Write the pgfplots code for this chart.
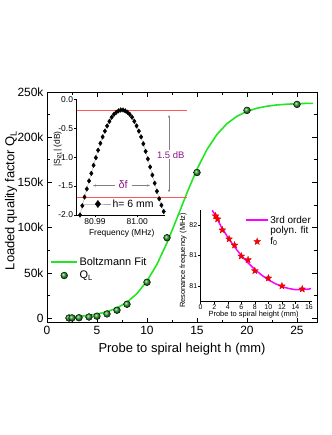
\documentclass[border=0pt]{standalone}
\usepackage{fontspec}
\setmainfont{Liberation Sans}
\usepackage{pgfplots}
\pgfplotsset{compat=1.18}
\usetikzlibrary{arrows.meta}

\definecolor{fitgreen}{HTML}{22E622}
\definecolor{ballgreen}{HTML}{279A27}
\definecolor{polymag}{HTML}{FF00FF}
\definecolor{linered}{HTML}{FF5555}
\definecolor{annpurple}{HTML}{8B1A8B}

% filled five-pointed star
\pgfdeclareplotmark{fstar}{%
  \pgfpathmoveto{\pgfpointpolar{90}{\pgfplotmarksize}}%
  \pgfpathlineto{\pgfpointpolar{126}{0.42\pgfplotmarksize}}%
  \pgfpathlineto{\pgfpointpolar{162}{\pgfplotmarksize}}%
  \pgfpathlineto{\pgfpointpolar{198}{0.42\pgfplotmarksize}}%
  \pgfpathlineto{\pgfpointpolar{234}{\pgfplotmarksize}}%
  \pgfpathlineto{\pgfpointpolar{270}{0.42\pgfplotmarksize}}%
  \pgfpathlineto{\pgfpointpolar{306}{\pgfplotmarksize}}%
  \pgfpathlineto{\pgfpointpolar{342}{0.42\pgfplotmarksize}}%
  \pgfpathlineto{\pgfpointpolar{18}{\pgfplotmarksize}}%
  \pgfpathlineto{\pgfpointpolar{54}{0.42\pgfplotmarksize}}%
  \pgfpathclose
  \pgfusepathqfillstroke}

% legend images of given length
\pgfplotsset{
  lineleg/.style={legend image code/.code={\draw[##1] (0bp,0bp) -- (#1,0bp);}},
  markleg/.style 2 args={legend image code/.code={\draw[mark repeat=2,mark phase=2,##1]
    plot coordinates {(0bp,0bp) (#1,0bp) (#2,0bp)};}},
  bigmarkleg/.style 2 args={legend image code/.code={\draw[mark repeat=2,mark phase=2,##1,mark size=3.6bp]
    plot coordinates {(0bp,0bp) (#1,0bp) (#2,0bp)};}},
}

\begin{document}
\begin{tikzpicture}
\path[use as bounding box] (0,0) rectangle (332bp,435bp);

% ---------------- main plot ----------------
\begin{axis}[
  at={(47bp,112.3bp)}, anchor=south west,
  scale only axis, width=270bp, height=230.7bp,
  xmin=0, xmax=27, ymin=-5, ymax=250,
  xtick={0,5,...,25}, ytick={0,50,...,250},
  yticklabels={0,50k,100k,150k,200k,250k},
  minor x tick num=1, minor y tick num=1,
  tick align=inside, major tick length=5bp, minor tick length=3bp,
  axis line style={line width=0.9bp},
  every tick/.style={black, line width=0.8bp},
  /pgf/number format/assume math mode=true,
  tick label style={font=\fontsize{12}{14}\selectfont},
  xlabel={Probe to spiral height h (mm)},
  ylabel={Loaded quality factor Q\textsubscript{L}},
  label style={font=\fontsize{13}{15}\selectfont},
  xlabel style={at={(axis description cs:0.5,-0.114)}, anchor=center},
  ylabel style={at={(axis description cs:-0.133,0.53)}, anchor=center},
  legend style={at={(axis description cs:0.012,0.29)}, anchor=north west, draw=none, fill=none,
    font=\fontsize{11}{13}\selectfont, inner sep=0pt, row sep=1bp,
    nodes={inner sep=1.5bp}},
  legend cell align=left,
]
\addplot[fitgreen, line width=1.6bp, lineleg=26bp]
  coordinates {
  (2,1.09) (3,1.75) (4,2.81) (5,4.49) (6,7.15) (7,11.3) (8,17.7) (9,27.2)
  (10,41.0) (11,59.6) (12,83.3) (13,110.5) (14,138.6) (15,164.7) (16,186.5)
  (17,203.1) (18,215.1) (19,223.2) (20,228.6) (21,232.1) (22,234.3)
  (23,235.7) (24,236.5) (25,237.1) (26,237.4) (26.6,237.5)};
\addlegendentry{Boltzmann Fit}
\addplot[only marks, mark=ball, mark size=3.4bp, mark options={ball color=ballgreen},
  markleg={13bp}{26bp}]
  coordinates {
  (2.2,0.2) (2.5,0.3) (3.2,0.5) (4.2,1.3) (5,2.2) (6,4.7) (7,8.8) (8,15.4)
  (10,39.7) (12,88.9) (15,161) (20,229.7) (25,236.3)};
\addlegendentry{Q\textsubscript{L}}
\end{axis}

% ---------------- inset: transmission peak ----------------
\begin{axis}[
  at={(76.7bp,220bp)}, anchor=south west,
  scale only axis, width=88.3bp, height=115.7bp,
  xmin=80.98567, xmax=81.00655, ymin=-2, ymax=0,
  axis x line*=bottom, axis y line*=left, tick pos=left,
  axis line style={line width=0.6bp},
  tick align=outside, major tick length=2.5bp, minor tick length=1.5bp,
  every tick/.style={black, line width=0.5bp},
  xtick={80.99,81.00}, xticklabels={80.99,81.00},
  minor xtick={80.995,81.005},
  ytick={-2,-1.5,-1,-0.5,0}, yticklabels={-2.0,-1.5,-1.0,-0.5,0.0},
  tick label style={font=\fontsize{8.5}{10}\selectfont, inner sep=1bp},
  xlabel={Frequency (MHz)}, ylabel={|S\textsubscript{21}| (dB)},
  label style={font=\fontsize{8.5}{10}\selectfont},
  xlabel style={at={(axis description cs:0.51,-0.156)}, anchor=center},
  ylabel style={at={(axis description cs:-0.215,0.57)}, anchor=center},
  clip=false,
  legend style={at={(axis description cs:0.077,0.095)}, anchor=west, draw=none, fill=none,
    font=\fontsize{10.5}{12}\selectfont, inner sep=0pt, nodes={inner sep=1.5bp}},
]
\addplot[gray!70, line width=0.4bp, mark=diamond*, mark size=2.3bp,
  mark options={black, fill=black}, bigmarkleg={14bp}{27bp}]
  coordinates {
  (80.98645,-2.00) (80.98699,-1.84) (80.98752,-1.69) (80.98806,-1.55)
  (80.98859,-1.41) (80.98913,-1.28) (80.98966,-1.14) (80.99020,-1.01)
  (80.99073,-0.88) (80.99127,-0.76) (80.99180,-0.65) (80.99234,-0.55)
  (80.99287,-0.46) (80.99341,-0.38) (80.99394,-0.31) (80.99448,-0.26)
  (80.99501,-0.225) (80.99555,-0.20) (80.99608,-0.185) (80.99662,-0.185)
  (80.99715,-0.20) (80.99769,-0.225) (80.99822,-0.26) (80.99876,-0.31)
  (80.99929,-0.38) (80.99983,-0.46) (81.00036,-0.55) (81.00090,-0.65)
  (81.00143,-0.77) (81.00197,-0.90) (81.00250,-1.03) (81.00304,-1.17)
  (81.00357,-1.31) (81.00411,-1.45) (81.00464,-1.59) (81.00518,-1.72)
  (81.00571,-1.83) (81.00625,-1.94)};
\addlegendentry{h= 6 mm}
\draw[linered, line width=0.7bp] (axis cs:80.98567,-0.185) -- (axis cs:81.01168,-0.185);
\draw[linered, line width=0.7bp] (axis cs:80.98567,-1.69) -- (axis cs:81.01168,-1.69);
\draw[gray, line width=0.5bp, {Stealth[length=3bp,width=2.2bp]}-{Stealth[length=3bp,width=2.2bp]}]
  (axis cs:81.0075,-0.27) -- (axis cs:81.0075,-1.61);
\node[fill=white, inner sep=1bp, text=annpurple, font=\fontsize{9.5}{11}\selectfont]
  at (axis cs:81.0079,-0.96) {1.5 dB};
\draw[gray, line width=0.5bp, -{Stealth[length=3bp,width=2.2bp]}]
  (axis cs:80.99473,-1.49) -- (axis cs:80.98953,-1.49);
\draw[gray, line width=0.5bp, -{Stealth[length=3bp,width=2.2bp]}]
  (axis cs:80.99868,-1.49) -- (axis cs:81.0030,-1.49);
\node[text=annpurple, font=\fontsize{11}{13}\selectfont]
  at (axis cs:80.99665,-1.47) {δf};
\end{axis}

% ---------------- inset: resonance frequency ----------------
\begin{axis}[
  at={(200bp,133.3bp)}, anchor=south west,
  scale only axis, width=111.7bp, height=91.7bp,
  xmin=-0.1, xmax=16.4, ymin=80.243, ymax=81.746,
  axis x line*=bottom, axis y line*=left, tick pos=left,
  axis line style={line width=0.6bp},
  tick align=outside, major tick length=2bp,
  every tick/.style={black, line width=0.5bp},
  xtick={0,2,...,16},
  ytick={80.5,81,81.5}, yticklabels={81,81,82},
  /pgf/number format/assume math mode=true,
  tick label style={font=\fontsize{7}{8}\selectfont, inner sep=0.6bp},
  xlabel={Probe to spiral height (mm)}, ylabel={Resonance frequency (MHz)},
  label style={font=\fontsize{7.5}{9}\selectfont},
  xlabel style={at={(axis description cs:0.48,-0.145)}, anchor=center},
  ylabel style={at={(axis description cs:-0.15,0.45)}, anchor=center},
  legend style={at={(axis description cs:0.405,0.955)}, anchor=north west, draw=none, fill=none,
    font=\fontsize{10}{12}\selectfont, inner sep=0pt, row sep=-1bp,
    nodes={inner sep=1.5bp}},
  legend cell align=left,
]
\addplot[polymag, line width=1.5bp, lineleg=22bp]
  coordinates {
  (1.7,81.74) (2,81.69) (3,81.48) (4,81.30) (5,81.14) (6,81.00) (7,80.88)
  (8,80.77) (9,80.68) (10,80.60) (11,80.54) (12,80.49) (13,80.46) (14,80.44)
  (15,80.44) (16,80.45) (16.3,80.46)};
\addlegendentry{3rd order}
\addlegendimage{empty legend}
\addlegendentry{polyn. fit}
\addplot[only marks, mark=fstar, mark size=3.6bp,
  mark options={fill=red, draw=red!80!black, line width=0.3bp},
  markleg={11bp}{22bp}]
  coordinates {
  (2.2,81.648) (2.5,81.598) (3.2,81.418) (4.2,81.27) (5,81.17) (6,80.99)
  (7,80.93) (8,80.75) (10,80.63) (12,80.50) (15,80.45)};
\addlegendentry{f\textsubscript{0}}
\end{axis}
\end{tikzpicture}
\end{document}
